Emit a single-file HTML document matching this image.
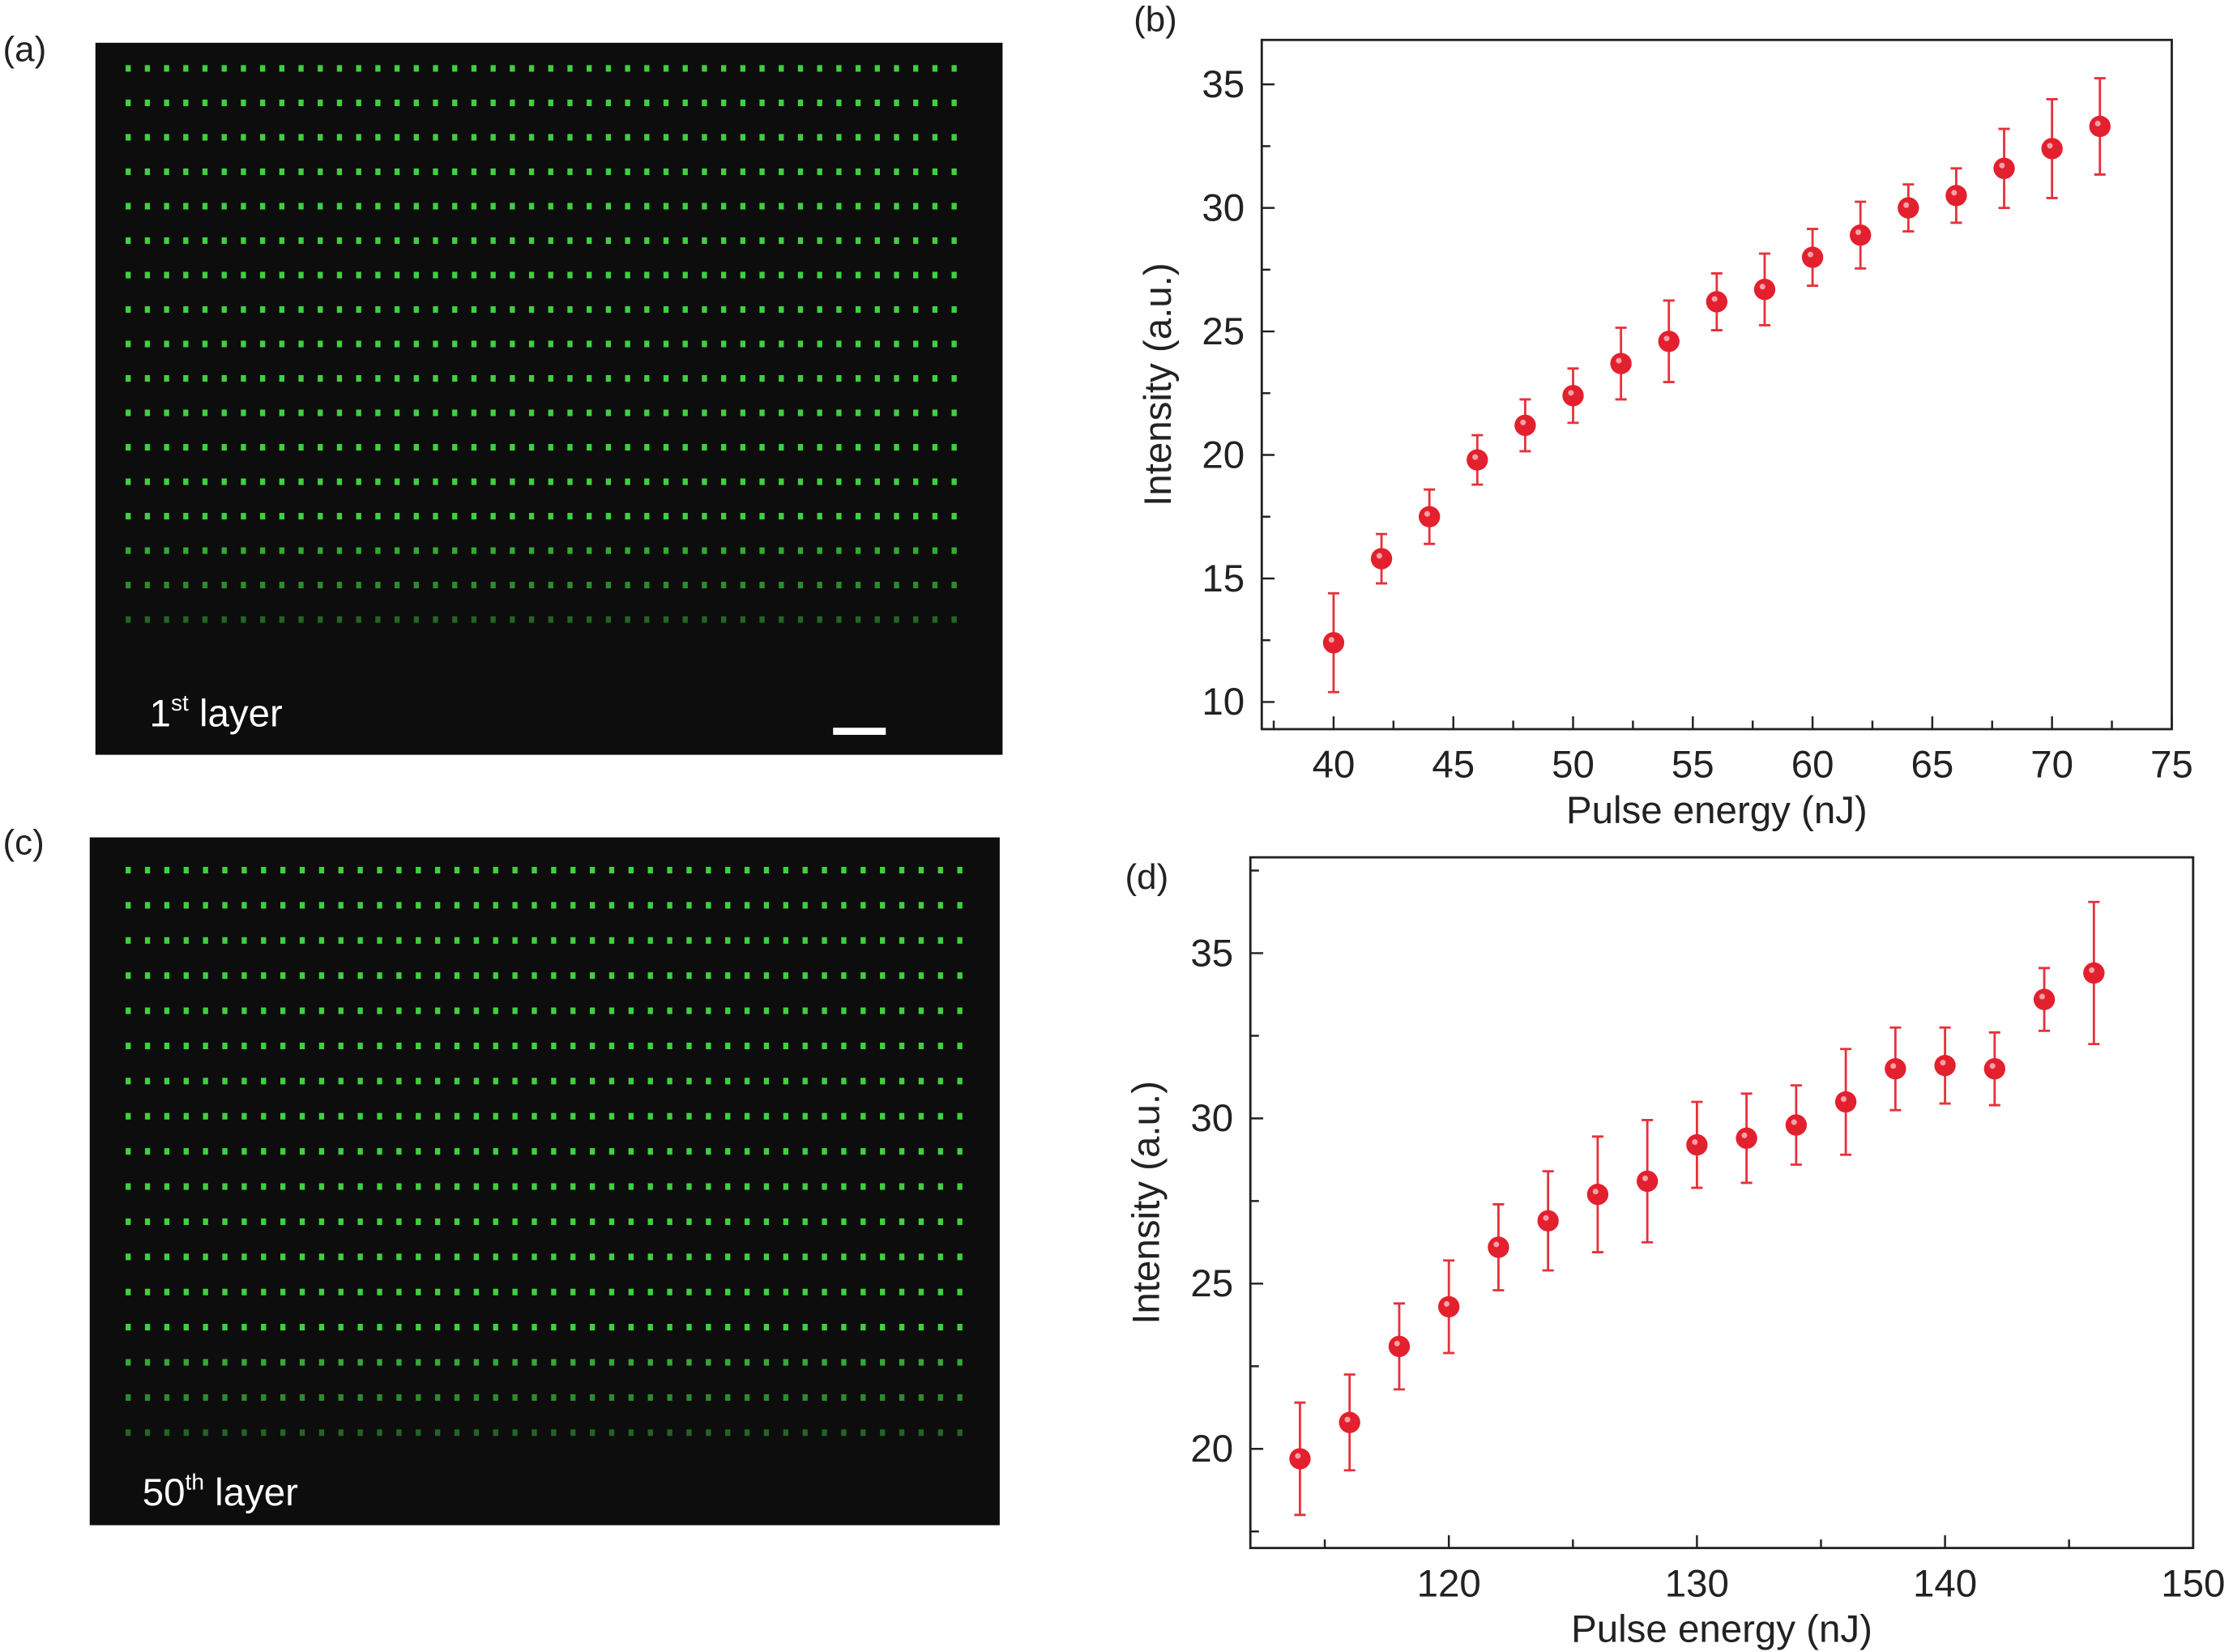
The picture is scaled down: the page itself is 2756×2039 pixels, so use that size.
<!DOCTYPE html>
<html><head><meta charset="utf-8">
<style>
html,body{margin:0;padding:0;background:#fff;}
svg{display:block;font-family:"Liberation Sans",sans-serif;}
</style></head>
<body>
<svg id="fig" width="2756" height="2039" viewBox="0 0 1568 1160" xmlns="http://www.w3.org/2000/svg">
  <text x="2" y="43" font-size="25" fill="#222">(a)</text>
  <rect x="67" y="30" width="637" height="500" fill="#0d0d0d"/>
  <g id="dotsA"></g>
  <text x="105" y="510" font-size="27" fill="#fff">1<tspan font-size="16" dy="-11">st</tspan><tspan dy="11"> layer</tspan></text>
  <rect x="585" y="511" width="37" height="5" fill="#fff"/>

  <text x="2" y="600" font-size="25" fill="#222">(c)</text>
  <rect x="63" y="588" width="639" height="483" fill="#0d0d0d"/>
  <g id="dotsC"></g>
  <text x="100" y="1057" font-size="27" fill="#fff">50<tspan font-size="16" dy="-11">th</tspan><tspan dy="11"> layer</tspan></text>

  <text x="796" y="22" font-size="25" fill="#222">(b)</text>
  <g id="chartB"></g>
  <text x="790" y="624" font-size="25" fill="#222">(d)</text>
  <g id="chartD"></g>
</svg>
<script>
// Chart (b) data
const bEnergy = [40,42,44,46,48,50,52,54,56,58,60,62,64,66,68,70,72];
const bIntensity = [12.4,15.8,17.5,19.8,21.2,22.4,23.7,24.6,26.2,26.7,28.0,28.9,30.0,30.5,31.6,32.4,33.3];
const bError = [2.0,1.0,1.1,1.0,1.05,1.1,1.45,1.65,1.15,1.45,1.15,1.35,0.95,1.1,1.6,2.0,1.95];
const bXTicks = [40,45,50,55,60,65,70,75];
const bYTicks = [10,15,20,25,30,35];
// Chart (d) data
const dEnergy = [114,116,118,120,122,124,126,128,130,132,134,136,138,140,142,144,146];
const dIntensity = [19.7,20.8,23.1,24.3,26.1,26.9,27.7,28.1,29.2,29.4,29.8,30.5,31.5,31.6,31.5,33.6,34.4];
const dError = [1.7,1.45,1.3,1.4,1.3,1.5,1.75,1.85,1.3,1.35,1.2,1.6,1.25,1.15,1.1,0.95,2.15];
const dXTicks = [120,130,140,150];
const dYTicks = [20,25,30,35];

const NS = "http://www.w3.org/2000/svg";
function mk(tag, attrs, parent){
  const e = document.createElementNS(NS, tag);
  for (const k in attrs) e.setAttribute(k, attrs[k]);
  parent.appendChild(e);
  return e;
}

function dots(gid, x0, x1, y0, y1, rows, cols){
  const g = document.getElementById(gid);
  for (let r=0;r<rows;r++){
    const y = y0 + (y1-y0)*r/(rows-1);
    const fade = r < rows-3 ? 1 : (r===rows-3?0.8:(r===rows-2?0.65:0.45));
    for (let c=0;c<cols;c++){
      const x = x0 + (x1-x0)*c/(cols-1);
      const d = mk('rect', {x:x-1.8, y:y-2.3, width:3.6, height:4.6, fill:'#3fd13f', opacity:fade}, g);
      
      
    }
  }
}
dots('dotsA', 90, 670, 48, 435, 17, 44);
dots('dotsC', 90, 674, 611, 1006, 17, 44);

function chart(gid, box, xr, yr, xs, ys, es, xt, yt, xMinor, yMinor, name){
  const g = document.getElementById(gid);
  const X = v => box.x + (v - xr[0])/(xr[1]-xr[0])*box.w;
  const Y = v => box.y + box.h - (v - yr[0])/(yr[1]-yr[0])*box.h;
  const frame = mk('rect', {x:box.x, y:box.y, width:box.w, height:box.h, fill:'none', stroke:'#222', 'stroke-width':1.6}, g);
  
  
  for (let v=Math.ceil(xr[0]/xMinor)*xMinor; v<=xr[1]+1e-9; v+=xMinor){
    const major = xt.includes(v);
    const t = mk('line', {x1:X(v), x2:X(v), y1:box.y+box.h, y2:box.y+box.h-(major?9:6), stroke:'#222', 'stroke-width':1.4}, g);
    
    
  }
  for (let v=Math.ceil(yr[0]/yMinor)*yMinor; v<=yr[1]+1e-9; v+=yMinor){
    const major = yt.includes(v);
    const t = mk('line', {x1:box.x, x2:box.x+(major?9:6), y1:Y(v), y2:Y(v), stroke:'#222', 'stroke-width':1.4}, g);
    
    
  }
  xt.forEach(v=>{
    const t = mk('text', {x:X(v), y:box.y+box.h+34, 'font-size':27, 'text-anchor':'middle', fill:'#222'}, g);
    t.textContent = v;
    
    
  });
  yt.forEach(v=>{
    const t = mk('text', {x:box.x-12, y:Y(v)+9, 'font-size':27, 'text-anchor':'end', fill:'#222'}, g);
    t.textContent = v;
    
    
  });
  const xl = mk('text', {x:box.x+box.w/2, y:box.y+box.h+66, 'font-size':27, 'text-anchor':'middle', fill:'#222'}, g);
  xl.textContent = 'Pulse energy (nJ)';
  
  
  const yl = mk('text', {x:0, y:0, 'font-size':27, 'text-anchor':'middle', fill:'#222', transform:`translate(${box.x-64},${box.y+box.h/2}) rotate(-90)`}, g);
  yl.textContent = 'Intensity (a.u.)';
  
  
  xs.forEach((v,i)=>{
    const cx = X(v), cy = Y(ys[i]), top = Y(ys[i]+es[i]), bot = Y(ys[i]-es[i]);
    const eb = mk('path', {d:`M${cx},${top}V${bot}M${cx-4},${top}H${cx+4}M${cx-4},${bot}H${cx+4}`, stroke:'#e5323c', 'stroke-width':1.6, fill:'none'}, g);
    
    
    const p = mk('circle', {cx:cx, cy:cy, r:7.5, fill:'#e3202e'}, g);
    
    
    const h = mk('circle', {cx:cx-1.5, cy:cy-2, r:2, fill:'#f7a0a6'}, g);
    
    
  });
}
chart('chartB', {x:886, y:28, w:639, h:484}, [37.0,75], [8.9,36.8], bEnergy, bIntensity, bError, bXTicks, bYTicks, 2.5, 2.5, 'chart-b');
chart('chartD', {x:878, y:602, w:662, h:485}, [112.0,150], [17.0,37.9], dEnergy, dIntensity, dError, dXTicks, dYTicks, 5, 2.5, 'chart-d');
</script>
</body></html>
